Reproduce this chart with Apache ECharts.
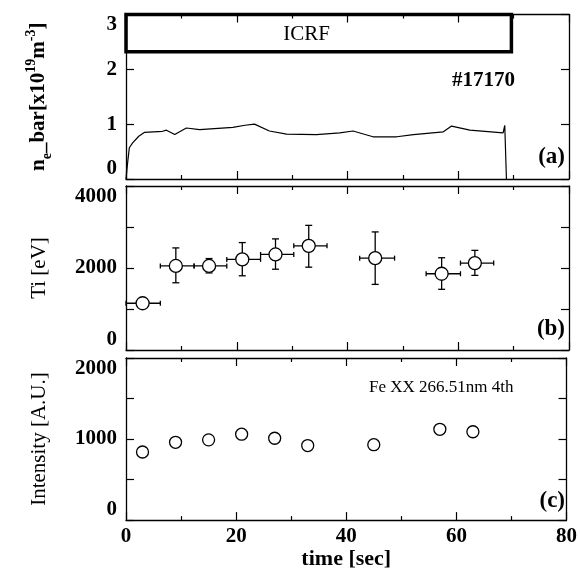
<!DOCTYPE html>
<html><head><meta charset="utf-8">
<script src="https://cdn.jsdelivr.net/npm/echarts@6/dist/echarts.min.js"></script>
<style>html,body{margin:0;padding:0;background:#fff}#c{width:580px;height:571px}</style>
</head><body><div id="c"></div><script>
// ---- data ----
const densityTime  = [0, 0.3, 0.6, 1.2, 2.3, 3.3, 6.6, 7.3, 8.8, 10.9, 13.3, 19.3, 21.5, 23.2, 25.9, 29.0, 34.4, 38.6, 41.0, 44.6, 48.9, 51.9, 57.3, 58.8, 62.1, 68.1, 68.4, 68.7];
const densityValue = [0, 0.3, 0.57, 0.66, 0.78, 0.85, 0.87, 0.89, 0.81, 0.93, 0.90, 0.94, 0.98, 1.0, 0.875, 0.82, 0.81, 0.84, 0.875, 0.77, 0.77, 0.81, 0.86, 0.965, 0.89, 0.84, 0.98, 0.0];
const tiTime     = [3, 9, 15, 21, 27, 33, 45, 57, 63];
const tiTimeLow  = [0, 6.2, 12.3, 18.2, 24.3, 30.3, 42.2, 54.2, 60.4];
const tiTimeHigh = [6.2, 12.3, 18.2, 24.3, 30.3, 36.3, 48.5, 60.4, 66.4];
const tiValue    = [1140, 2050, 2050, 2210, 2330, 2540, 2240, 1860, 2120];
const tiLow      = [1140, 1640, 1880, 1810, 1970, 2020, 1600, 1480, 1820];
const tiHigh     = [1140, 2490, 2230, 2620, 2710, 3040, 2880, 2250, 2430];
const intensityTime  = [3, 9, 15, 21, 27, 33, 45, 57, 63];
const intensityValue = [840, 960, 990, 1060, 1010, 920, 930, 1120, 1090];
const icrfStart = 0, icrfEnd = 69.6, icrfBottom = 2.32, icrfTop = 3;
const xTicks = [0, 20, 40, 60, 80];

const SERIF = '"Liberation Serif","DejaVu Serif",serif';
const chart = echarts.init(document.getElementById('c'), null, {renderer: 'canvas'});

const grids = [
  {left: 126, right: 11, top: 14.5, height: 164.5},
  {left: 126, right: 11, top: 186, height: 164},
  {left: 126, right: 11, top: 358, height: 163.7}
];

function xAx(g, pos, showLabel) {
  return {
    type: 'value', gridIndex: g, position: pos, min: 0, max: 80, interval: 20,
    axisLine: {show: true, onZero: false, lineStyle: {color: '#000', width: 1.3}},
    axisTick: {show: true, inside: true, length: 8, lineStyle: {color: '#000', width: 1.2}},
    minorTick: {show: true, splitNumber: 2, length: 4, lineStyle: {color: '#000', width: 1.2}},
    splitLine: {show: false},
    axisLabel: {show: showLabel, color: '#000', fontFamily: SERIF, fontWeight: 'bold', fontSize: 21, margin: 6,
      formatter: v => xTicks.indexOf(v) >= 0 ? String(v) : ''}
  };
}
function yAx(g, pos, max, interval, labelEvery, showLabel) {
  return {
    type: 'value', gridIndex: g, position: pos, min: 0, max: max, interval: interval,
    axisLine: {show: true, onZero: false, lineStyle: {color: '#000', width: 1.3}},
    axisTick: {show: true, inside: true, length: 8, lineStyle: {color: '#000', width: 1.2}},
    splitLine: {show: false},
    axisLabel: {show: showLabel, color: '#000', fontFamily: SERIF, fontWeight: 'bold', fontSize: 21, margin: 9,
      verticalAlignMinLabel: 'bottom', verticalAlignMaxLabel: 'top',
      formatter: v => (Math.round(v) % labelEvery === 0) ? String(Math.round(v)) : ''}
  };
}

const xAxes = [xAx(0,'bottom',false), xAx(0,'top',false), xAx(1,'bottom',false), xAx(1,'top',false), xAx(2,'bottom',true), xAx(2,'top',false)];
xAxes[4].name = 'time [sec]';
xAxes[4].nameLocation = 'middle';
xAxes[4].nameGap = 25;
xAxes[4].nameTextStyle = {color: '#000', fontFamily: SERIF, fontWeight: 'bold', fontSize: 22};

const yAxes = [yAx(0,'left',3,1,1,true), yAx(0,'right',3,1,1,false), yAx(1,'left',4000,1000,2000,true), yAx(1,'right',4000,1000,2000,false), yAx(2,'left',2000,500,1000,true), yAx(2,'right',2000,500,1000,false)];
yAxes[0].name = '{n|n}{sub|e}{n|_bar[x10}{sup|19}{n|m}{sup|-3}{n|]}';
yAxes[0].nameLocation = 'middle';
yAxes[0].nameGap = 72;
yAxes[0].nameTextStyle = {color: '#000', fontFamily: SERIF, fontWeight: 'bold', fontSize: 21,
  rich: {
    n: {fontFamily: SERIF, fontWeight: 'bold', fontSize: 21, color: '#000', lineHeight: 30, verticalAlign: 'middle'},
    sub: {fontFamily: SERIF, fontWeight: 'bold', fontSize: 14, color: '#000', lineHeight: 30, verticalAlign: 'bottom'},
    sup: {fontFamily: SERIF, fontWeight: 'bold', fontSize: 14, color: '#000', lineHeight: 30, verticalAlign: 'top'}
  }};
yAxes[2].name = 'Ti [eV]';
yAxes[2].nameLocation = 'middle';
yAxes[2].nameGap = 76;
yAxes[2].nameTextStyle = {color: '#000', fontFamily: SERIF, fontSize: 21};
yAxes[4].name = 'Intensity [A.U.]';
yAxes[4].nameLocation = 'middle';
yAxes[4].nameGap = 76;
yAxes[4].nameTextStyle = {color: '#000', fontFamily: SERIF, fontSize: 21};

const tiErrData = tiTime.map((t, i) => [t, tiValue[i], tiTimeLow[i], tiTimeHigh[i], tiLow[i], tiHigh[i]]);

function errRender(params, api) {
  const c = api.coord([api.value(0), api.value(1)]);
  const l = api.coord([api.value(2), api.value(1)]);
  const r = api.coord([api.value(3), api.value(1)]);
  const lo = api.coord([api.value(0), api.value(4)]);
  const hi = api.coord([api.value(0), api.value(5)]);
  const st = {stroke: '#000', lineWidth: 1.3};
  const ch = [
    {type: 'line', shape: {x1: l[0], y1: c[1], x2: r[0], y2: c[1]}, style: st},
    {type: 'line', shape: {x1: l[0], y1: c[1]-2.5, x2: l[0], y2: c[1]+2.5}, style: st},
    {type: 'line', shape: {x1: r[0], y1: c[1]-2.5, x2: r[0], y2: c[1]+2.5}, style: st}
  ];
  if (Math.abs(hi[1] - lo[1]) > 1) {
    ch.push({type: 'line', shape: {x1: c[0], y1: lo[1], x2: c[0], y2: hi[1]}, style: st});
    ch.push({type: 'line', shape: {x1: c[0]-3.5, y1: lo[1], x2: c[0]+3.5, y2: lo[1]}, style: st});
    ch.push({type: 'line', shape: {x1: c[0]-3.5, y1: hi[1], x2: c[0]+3.5, y2: hi[1]}, style: st});
  }
  return {type: 'group', children: ch};
}

const option = {
  backgroundColor: '#fff',
  animation: false,
  grid: grids,
  xAxis: xAxes,
  yAxis: yAxes,
  series: [
    {type: 'line', xAxisIndex: 0, yAxisIndex: 0, data: densityTime.map((t, i) => [t, densityValue[i]]),
      showSymbol: false, symbol: 'none', lineStyle: {color: '#000', width: 1.2}, z: 3},
    {type: 'custom', xAxisIndex: 0, yAxisIndex: 0, clip: false,
      data: [[icrfStart, icrfEnd, icrfBottom, icrfTop]],
      renderItem: function (params, api) {
        const p0 = api.coord([api.value(0), api.value(3)]);
        const p1 = api.coord([api.value(1), api.value(2)]);
        return {type: 'group', children: [
          {type: 'rect', shape: {x: p0[0], y: p0[1], width: p1[0]-p0[0], height: p1[1]-p0[1]},
            style: {fill: 'none', stroke: '#000', lineWidth: 3.5}},
          {type: 'text', style: {text: 'ICRF', x: (p0[0]+p1[0])/2 - 12, y: (p0[1]+p1[1])/2 + 1,
            align: 'center', verticalAlign: 'middle', fill: '#000', font: '21px ' + SERIF}}
        ]};
      }, z: 4},
    {type: 'custom', xAxisIndex: 2, yAxisIndex: 2, data: tiErrData, renderItem: errRender, z: 3},
    {type: 'scatter', xAxisIndex: 2, yAxisIndex: 2, data: tiTime.map((t, i) => [t, tiValue[i]]),
      symbol: 'circle', symbolSize: 13, itemStyle: {color: '#fff', borderColor: '#000', borderWidth: 1.3, opacity: 1}, z: 5},
    {type: 'scatter', xAxisIndex: 4, yAxisIndex: 4, data: intensityTime.map((t, i) => [t, intensityValue[i]]),
      symbol: 'circle', symbolSize: 12, itemStyle: {color: '#fff', borderColor: '#000', borderWidth: 1.3, opacity: 1}, z: 5}
  ],
  graphic: [
    {type: 'text', left: 452, top: 70, style: {text: '#17170', fill: '#000', font: 'bold 21px ' + SERIF}},
    {type: 'text', right: 15, top: 146, style: {text: '(a)', fill: '#000', font: 'bold 23px ' + SERIF}},
    {type: 'text', right: 15, top: 318, style: {text: '(b)', fill: '#000', font: 'bold 23px ' + SERIF}},
    {type: 'text', right: 15, top: 490, style: {text: '(c)', fill: '#000', font: 'bold 23px ' + SERIF}},
    {type: 'text', left: 369, top: 379, style: {text: 'Fe XX 266.51nm 4th', fill: '#000', font: '17px ' + SERIF}}
  ]
};
chart.setOption(option);
</script></body></html>
